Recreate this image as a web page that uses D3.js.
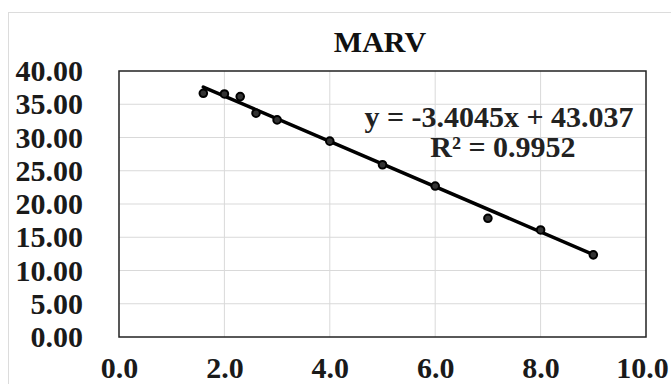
<!DOCTYPE html>
<html><head><meta charset="utf-8">
<script src="https://cdn.jsdelivr.net/npm/d3@7"></script>
<style>html,body{margin:0;padding:0;background:#fff;}svg{display:block;}</style>
</head><body>
<svg id="chart" width="671" height="384"></svg>
<script>
const title = "MARV";
const xValues = [1.6, 2.0, 2.3, 2.6, 3.0, 4.0, 5.0, 6.0, 7.0, 8.0, 9.0];
const yValues = [36.65, 36.55, 36.15, 33.65, 32.65, 29.45, 25.9, 22.7, 17.85, 16.1, 12.35];
const xTicks = [0, 2, 4, 6, 8, 10];
const yTicks = [0, 5, 10, 15, 20, 25, 30, 35, 40];
const slope = -3.4045, intercept = 43.037;
const eqLabel = "y = -3.4045x + 43.037";
const r2Label = "R² = 0.9952";

const svg = d3.select("#chart");
const font = "'Liberation Serif','Times New Roman',serif";
const L = 119, R = 646, T = 71, B = 337;
const x = d3.scaleLinear().domain([0, 10]).range([L, R]);
const y = d3.scaleLinear().domain([0, 40]).range([B, T]);

// outer chart border
svg.append("rect").attr("x", 8.5).attr("y", 12.5).attr("width", 700).attr("height", 400)
  .attr("fill", "#fff").attr("stroke", "#dcdcdc").attr("stroke-width", 1);

// gridlines
svg.append("g").selectAll("line").data(yTicks.slice(1, -1)).join("line")
  .attr("x1", L).attr("x2", R).attr("y1", d => y(d)).attr("y2", d => y(d))
  .attr("stroke", "#d9d9d9").attr("stroke-width", 1);
svg.append("g").selectAll("line").data(xTicks.slice(1, -1)).join("line")
  .attr("y1", T).attr("y2", B).attr("x1", d => x(d)).attr("x2", d => x(d))
  .attr("stroke", "#d9d9d9").attr("stroke-width", 1);

// plot box
svg.append("rect").attr("x", L).attr("y", T).attr("width", R - L).attr("height", B - T)
  .attr("fill", "none").attr("stroke", "#222").attr("stroke-width", 1.5);

// axes labels via d3 axes
const yAxis = d3.axisLeft(y).tickValues(yTicks).tickFormat(d3.format(".2f")).tickSize(0).tickPadding(36);
const gy = svg.append("g").attr("transform", `translate(${L},0)`).call(yAxis);
gy.select(".domain").remove();
gy.selectAll("text").attr("font-family", font).attr("font-weight", "bold")
  .attr("font-size", 30).attr("fill", "#1a1a1a");

const xAxis = d3.axisBottom(x).tickValues(xTicks).tickFormat(d3.format(".1f")).tickSize(0).tickPadding(20);
const gx = svg.append("g").attr("transform", `translate(0,${B})`).call(xAxis);
gx.select(".domain").remove();
gx.selectAll("text").attr("font-family", font).attr("font-weight", "bold")
  .attr("font-size", 30).attr("fill", "#1a1a1a")
  .attr("dx", d => d === 10 ? -4 : 0);

// title
svg.append("text").attr("x", 380).attr("y", 52).attr("text-anchor", "middle")
  .attr("font-family", font).attr("font-weight", "bold").attr("font-size", 30)
  .attr("fill", "#111").text(title);

// trendline
const x0 = d3.min(xValues), x1 = d3.max(xValues);
svg.append("line")
  .attr("x1", x(x0)).attr("y1", y(slope * x0 + intercept))
  .attr("x2", x(x1)).attr("y2", y(slope * x1 + intercept))
  .attr("stroke", "#000").attr("stroke-width", 3.5).attr("stroke-linecap", "round");

// points
svg.append("g").selectAll("circle").data(xValues.map((d, i) => [d, yValues[i]])).join("circle")
  .attr("cx", d => x(d[0])).attr("cy", d => y(d[1])).attr("r", 3.8)
  .attr("fill", "#333").attr("stroke", "#000").attr("stroke-width", 2);

// equation
svg.append("text").attr("x", 499).attr("y", 127).attr("text-anchor", "middle")
  .attr("font-family", font).attr("font-weight", "bold").attr("font-size", 30)
  .attr("fill", "#222").text(eqLabel);
svg.append("text").attr("x", 503).attr("y", 157).attr("text-anchor", "middle")
  .attr("font-family", font).attr("font-weight", "bold").attr("font-size", 30)
  .attr("fill", "#222").text(r2Label);
</script>
</body></html>
